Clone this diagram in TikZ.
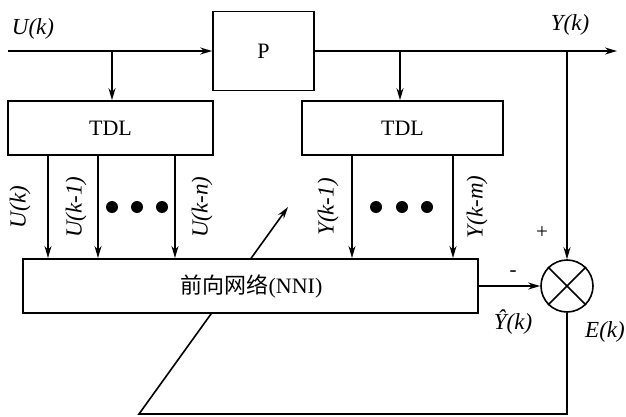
\documentclass[tikz,border=0pt]{standalone}
\usepackage{fontspec}
\setmainfont{Liberation Serif}
\newfontfamily\cjk{Noto Sans CJK SC}
\usetikzlibrary{arrows.meta,backgrounds}
\tikzset{
  ln/.style={line width=1.6pt},
  blk/.style={draw, ln, fill=white, inner sep=0pt, font=\fontsize{22}{26}\selectfont},
  arr/.style={ln, -{Stealth[length=12pt,width=7pt]}},
  lbl/.style={font=\fontsize{23}{26}\selectfont\itshape, inner sep=0pt},
  sgn/.style={font=\fontsize{21}{24}\selectfont, inner sep=0pt},
  bigdot/.style={circle, fill=black, minimum size=12pt, inner sep=0pt},
}
\begin{document}
\begin{tikzpicture}[x=1pt,y=-1pt]
\useasboundingbox (0,0) rectangle (626,417);
% blocks
\node[blk, minimum width=101pt, minimum height=79pt] (P) at (263.5,51) {P};
\node[blk, minimum width=205pt, minimum height=54pt] (TDL1) at (110.5,128) {TDL};
\node[blk, minimum width=201pt, minimum height=54pt] (TDL2) at (402.5,128) {TDL};
\node[blk, minimum width=455pt, minimum height=54pt] (NNI) at (250.5,286) {\hspace*{2pt}{\cjk 前向网络}(NNI)};
\node[draw, ln, circle, minimum size=52pt, inner sep=0pt, fill=white] (sum) at (567,286) {};
\draw[ln] (sum.north east) -- (sum.south west) (sum.north west) -- (sum.south east);
% coordinates
\coordinate (in) at (8,51);
\coordinate (out) at (617,51);
\coordinate (b1) at (112,51);
\coordinate (b2) at (400,51);
\coordinate (b3) at (567,51);
\coordinate (t1) at (48,258);
\coordinate (t2) at (98,258);
\coordinate (t3) at (175,258);
\coordinate (t4) at (352,258);
\coordinate (t5) at (453,258);
\coordinate (fb) at (139,414);
\coordinate (tip) at (288,207);
% connectors
\draw[arr] (in) -- (P.west);
\draw[arr] (P.east) -- (out);
\draw[arr] (b1) -- (b1 |- TDL1.north);
\draw[arr] (b2) -- (b2 |- TDL2.north);
\draw[arr] (b3) -- (sum.north);
\foreach \t in {t1,t2,t3} \draw[arr] (\t |- TDL1.south) -- (\t);
\foreach \t in {t4,t5} \draw[arr] (\t |- TDL2.south) -- (\t);
\draw[arr] (NNI.east) -- (sum.west);
\begin{scope}[on background layer]
\draw[arr] (sum.south) |- (fb) -- (tip);
\end{scope}
% labels
\node[lbl] (lu) at (33,29) {U(k)};
\node[lbl] (ly) at (570,25) {Y(k)};
\node[lbl, rotate=90] (l1) at (20,207) {U(k)};
\node[lbl, rotate=90] (l2) at (76,207) {U(k-1)};
\node[lbl, rotate=90] (l3) at (202,207) {U(k-n)};
\node[lbl, rotate=90] (l4) at (328,207) {Y(k-1)};
\node[lbl, rotate=90] (l5) at (477,207) {Y(k-m)};
\node[sgn] (plus) at (542,233) {+};
\node[sgn] (minus) at (513,274) {-};
\node[lbl] (yhat) at (513,322) {\^{Y}(k)};
\node[lbl] (ek) at (605,332) {E(k)};
% dots
\foreach \x/\n in {112/d1,137/d2,162/d3,376/d4,402/d5,427/d6}
  \node[bigdot] (\n) at (\x,207) {};
\end{tikzpicture}
\end{document}
